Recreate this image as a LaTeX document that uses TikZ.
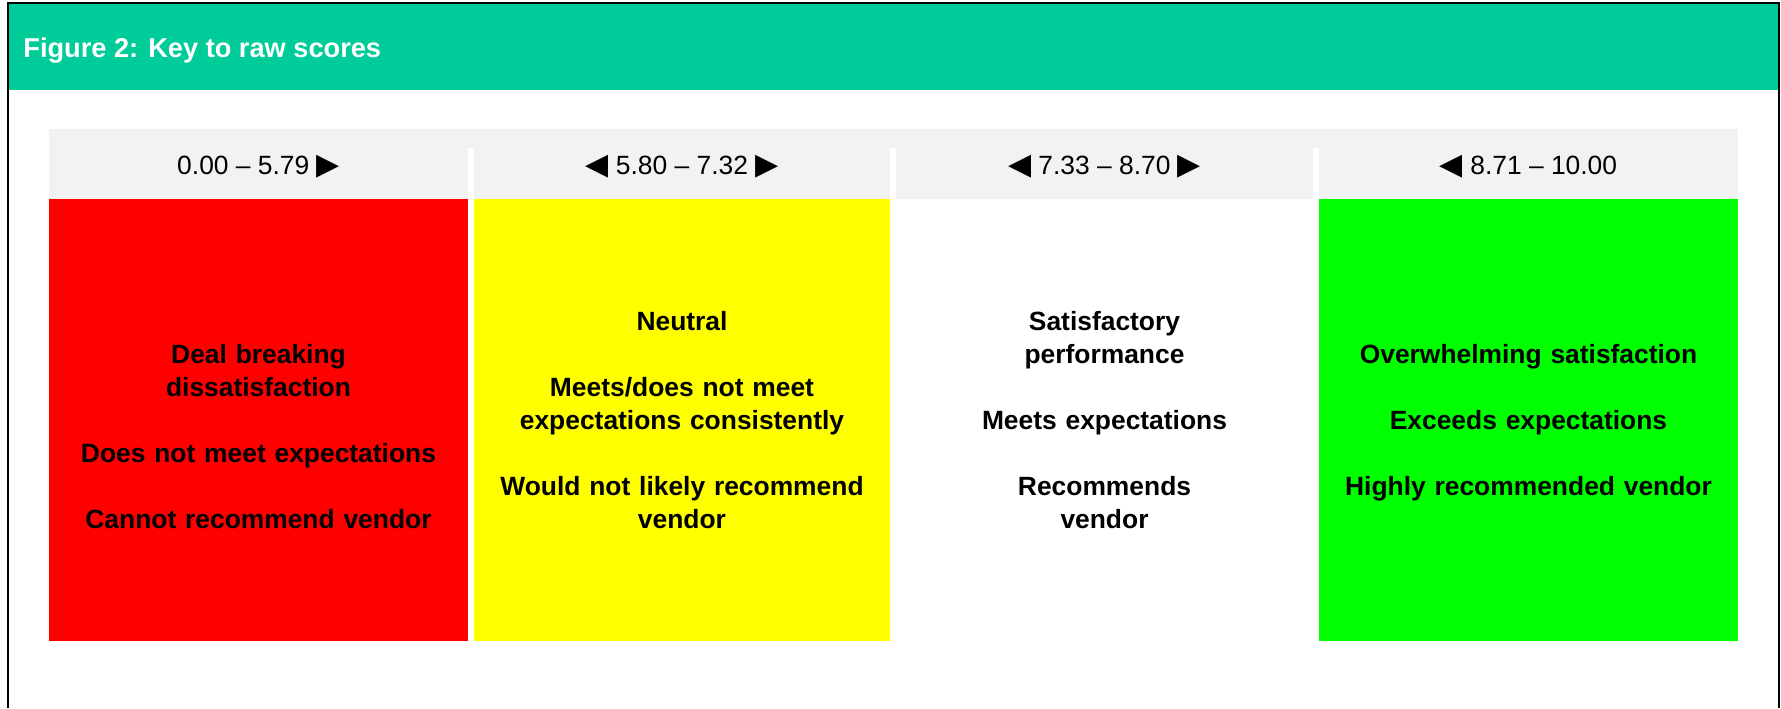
\documentclass[tikz,border=0pt]{standalone}
\usepackage{fontspec}
\setmainfont{Liberation Sans}
\newfontfamily\arrowFont{DejaVu Sans}
\usetikzlibrary{positioning}
\definecolor{headGreen}{RGB}{0,204,153}
\definecolor{bandGrey}{RGB}{242,242,242}
\definecolor{keyRed}{RGB}{255,0,0}
\definecolor{keyYellow}{RGB}{255,255,0}
\definecolor{keyGreen}{RGB}{0,255,0}
\newcommand{\keySize}{\fontsize{13.2pt}{16.5pt}\selectfont}
\newcommand{\keyWidth}{200pt}
\newcommand{\keyGap}{16.5pt}
\newcommand{\ptrRight}{{\arrowFont\fontsize{15pt}{15pt}\selectfont ▶}}
\newcommand{\ptrLeft}{{\arrowFont\fontsize{15pt}{15pt}\selectfont ◀}}

\begin{document}
\begin{tikzpicture}[x=0.5pt, y=-0.5pt, every node/.style={inner sep=0pt, font=\keySize},
		scoreRange/.style={anchor=base},
		verdictText/.style={anchor=base, text width=\keyWidth, align=center, font=\keySize\bfseries}]
	\useasboundingbox (0,0) rectangle (1781,708);
	% header bar
	\fill[headGreen] (8,3) rectangle (1779,90);
	\draw[line width=1.4pt] (8,708) -- (8,3) -- (1779,3) -- (1779,708);
	\node[anchor=base west, text=white, font=\fontsize{13.6pt}{16.5pt}\selectfont\bfseries] (figTitle) at (23,57) {Figure 2: Key to raw scores};
	% score ranges
	\fill[bandGrey] (49,129) rectangle (1738,199);
	\fill[white] (468,148) rectangle (474,199);
	\fill[white] (890,148) rectangle (896,199);
	\fill[white] (1313,148) rectangle (1319,199);
	\node[scoreRange] (rangeRed) at (258.5,174) {0.00 – 5.79 \ptrRight};
	\node[scoreRange] (rangeYellow) at (682,174) {\ptrLeft\ 5.80 – 7.32 \ptrRight};
	\node[scoreRange] (rangeWhite) at (1104.5,174) {\ptrLeft\ 7.33 – 8.70 \ptrRight};
	\node[scoreRange] (rangeGreen) at (1528.5,174) {\ptrLeft\ 8.71 – 10.00};
	% colour key
	\fill[keyRed] (49,199) rectangle (468,641);
	\fill[keyYellow] (474,199) rectangle (890,641);
	\fill[keyGreen] (1319,199) rectangle (1738,641);
	\node[verdictText] (textRed) at (258.5,363) {Deal breaking\\dissatisfaction\\[\keyGap]Does not meet expectations\\[\keyGap]Cannot recommend vendor};
	\node[verdictText] (textYellow) at (682,330) {Neutral\\[\keyGap]Meets/does not meet\\expectations consistently\\[\keyGap]Would not likely recommend\\vendor};
	\node[verdictText] (textWhite) at (1104.5,330) {Satisfactory\\performance\\[\keyGap]Meets expectations\\[\keyGap]Recommends\\vendor};
	\node[verdictText] (textGreen) at (1528.5,363) {Overwhelming satisfaction\\[\keyGap]Exceeds expectations\\[\keyGap]Highly recommended vendor};
\end{tikzpicture}
\end{document}
